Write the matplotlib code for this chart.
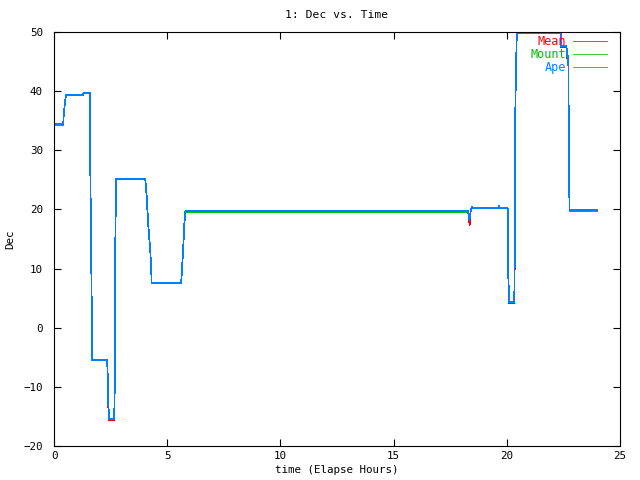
import matplotlib.pyplot as plt

# Ape track (hours, dec)
t_ape = [0.00, 0.05, 0.41, 0.42, 0.48, 0.53, 1.28, 1.30, 1.59, 1.60, 1.66, 1.69,
         2.35, 2.37, 2.40, 2.44, 2.66, 2.70, 2.71, 2.74, 4.03, 4.09, 4.17, 4.22,
         4.26, 4.30, 4.31, 5.62, 5.65, 5.71, 5.76, 5.80, 18.29, 18.32, 18.35,
         18.40, 18.45, 18.50, 19.63, 19.66, 19.70, 20.04, 20.05, 20.07, 20.11,
         20.33, 20.36, 20.38, 20.44, 22.38, 22.39, 22.64, 22.65, 22.71, 22.72,
         22.74, 22.77, 23.97]
dec_ape = [34.8, 34.4, 34.4, 35.6, 38.0, 39.3, 39.3, 39.7, 39.7, 28.4, 5.9, -5.5,
           -5.5, -8.0, -13.1, -15.4, -15.4, -5.5, 14.8, 25.1, 25.1, 22.4, 17.0, 14.5,
           12.6, 9.2, 7.6, 7.6, 9.8, 13.6, 17.7, 19.7, 19.7, 19.0, 18.2,
           19.6, 20.4, 20.2, 20.2, 20.6, 20.2, 20.2, 16.2, 8.2, 4.3,
           4.3, 15.6, 38.3, 49.8, 49.8, 47.6, 47.6, 46.0, 46.0, 44.4,
           31.5, 19.9, 19.9]

# Mean track
t_mean = [0.00, 0.05, 0.41, 0.42, 0.48, 0.53, 1.28, 1.30, 1.59, 1.60, 1.66, 1.69,
          2.35, 2.37, 2.40, 2.44, 2.66, 2.70, 2.71, 2.74, 4.03, 4.09, 4.17, 4.22,
          4.26, 4.30, 4.31, 5.62, 5.65, 5.71, 5.76, 5.80, 18.29, 18.32, 18.36,
          18.40, 18.45, 18.50, 19.63, 19.66, 19.70, 20.04, 20.05, 20.07, 20.11,
          20.33, 20.36, 20.38, 20.44, 22.38, 22.39, 22.64, 22.65, 22.71, 22.72,
          22.74, 22.77, 23.97]
dec_mean = [34.8, 34.4, 34.4, 35.6, 38.0, 39.3, 39.3, 39.7, 39.7, 28.4, 5.9, -5.5,
            -5.5, -8.0, -13.4, -15.6, -15.6, -5.5, 14.8, 25.1, 25.1, 22.4, 17.0, 14.5,
            12.6, 9.2, 7.6, 7.6, 9.8, 13.6, 17.7, 19.7, 19.7, 18.8, 17.4,
            19.6, 20.4, 20.2, 20.2, 20.6, 20.2, 20.2, 15.8, 8.2, 4.2,
            4.2, 15.2, 38.3, 49.8, 49.8, 47.4, 47.4, 45.6, 45.6, 44.4,
            31.5, 19.9, 19.9]

# Mount track
t_mount = [0.00, 0.05, 0.41, 0.42, 0.48, 0.53, 1.28, 1.30, 1.59, 1.60, 1.66, 1.69,
           2.35, 2.37, 2.40, 2.44, 2.66, 2.70, 2.71, 2.74, 4.03, 4.09, 4.17, 4.22,
           4.26, 4.30, 4.31, 5.62, 5.65, 5.71, 5.76, 5.80, 18.29, 18.32, 18.35,
           18.40, 18.45, 18.50, 19.63, 19.66, 19.70, 20.04, 20.05, 20.07, 20.11,
           20.33, 20.36, 20.38, 20.44, 22.38, 22.39, 22.64, 22.65, 22.71, 22.72,
           22.74, 22.77, 23.97]
dec_mount = [34.6, 34.2, 34.2, 35.6, 38.0, 39.3, 39.3, 39.7, 39.7, 28.4, 5.9, -5.5,
             -5.5, -8.0, -13.1, -15.4, -15.4, -5.5, 14.8, 25.1, 25.1, 22.4, 17.0, 14.5,
             12.6, 9.2, 7.6, 7.6, 9.8, 13.6, 17.7, 19.55, 19.55, 19.0, 18.2,
             19.6, 20.4, 20.2, 20.2, 20.6, 20.2, 20.2, 16.2, 8.2, 4.3,
             4.3, 15.6, 38.3, 49.8, 49.8, 47.6, 47.6, 46.0, 46.0, 44.4,
             31.5, 19.7, 19.7]

x_ticks = [0, 5, 10, 15, 20, 25]
y_ticks = [-20, -10, 0, 10, 20, 30, 40, 50]

plt.rcParams['font.family'] = 'DejaVu Sans Mono'
plt.rcParams['font.size'] = 7.8

fig = plt.figure(figsize=(6.4, 4.8), dpi=100)
ax = fig.add_axes([54 / 640, 34 / 480, 566 / 640, 414 / 480])

ax.plot(t_mean, dec_mean, color='#ff0000', lw=0.55, antialiased=False, label='Mean')
ax.plot(t_mount, dec_mount, color='#00c000', lw=0.55, antialiased=False, label='Mount')
ax.plot(t_ape, dec_ape, color='#0080ff', lw=0.55, antialiased=False, label='Ape')

ax.set_xlim(0, 25)
ax.set_ylim(-20, 50)
ax.set_xticks(x_ticks)
ax.set_yticks(y_ticks)
ax.tick_params(direction='in', top=True, right=True, length=5, width=0.8)
ax.tick_params(axis='x', pad=3.5)
ax.tick_params(axis='y', pad=8)
for s in ax.spines.values():
    s.set_linewidth(0.8)

ax.set_title('1: Dec vs. Time', fontsize=8.2, pad=10)
ax.set_xlabel('time (Elapse Hours)', labelpad=3)
ax.set_ylabel('Dec', labelpad=6)

ax.legend(loc='upper right', bbox_to_anchor=(0.977, 0.993), frameon=False,
          markerfirst=False, labelcolor='linecolor', fontsize=8.5,
          handlelength=2.9, handletextpad=0.6, labelspacing=0.0,
          borderaxespad=0, borderpad=0)

fig.savefig('out.png', dpi=100)
